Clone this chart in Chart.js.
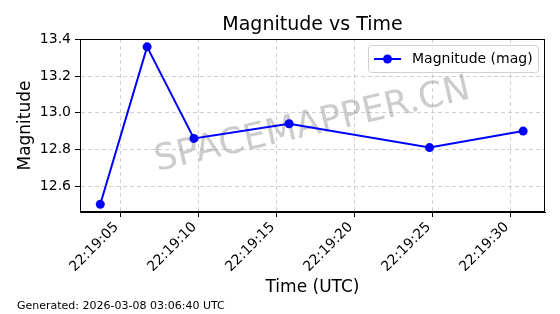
<!DOCTYPE html>
<html>
<head>
<meta charset="utf-8">
<script src="https://cdn.jsdelivr.net/npm/chart.js@4.4.1/dist/chart.umd.min.js"></script>
<style>
  body { margin: 0; background: #fff; }
  canvas { display: block; }
</style>
</head>
<body>
<canvas id="magChart" width="560" height="314"></canvas>
<script>
const times = ['22:19:03.7', '22:19:06.7', '22:19:09.7', '22:19:15.8', '22:19:24.8', '22:19:30.8'];
const magnitudes = [12.50, 13.36, 12.86, 12.94, 12.81, 12.90];
const xRange = ['22:19:02.4', '22:19:32.2'];
const yRange = [12.458, 13.403];
const seriesLabel = 'Magnitude (mag)';
const titleText = 'Magnitude vs Time';
const footerText = 'Generated: 2026-03-08 03:06:40 UTC';
const watermark = 'SPACEMAPPER.CN';

const FONT = '"DejaVu Sans", sans-serif';

// "hh:mm:ss.s" -> seconds of day
function toSec(t) {
    const p = t.split(':').map(Number);
    return p[0] * 3600 + p[1] * 60 + p[2];
}
function fmtTime(v) {
    const s = Math.round(v);
    const pad = n => String(n).padStart(2, '0');
    return pad(Math.floor(s / 3600)) + ':' + pad(Math.floor(s / 60) % 60) + ':' + pad(s % 60);
}

const points = times.map((t, i) => ({ x: toSec(t), y: magnitudes[i] }));

// Frame, title, legend, watermark and footer (matplotlib style)
const extras = {
    id: 'extras',
    beforeDatasetsDraw(chart) {
        // watermark sits under the data line
        const { ctx, chartArea: a } = chart;
        ctx.save();
        ctx.translate((a.left + a.right) / 2, (a.top + a.bottom) / 2);
        ctx.rotate(-13 * Math.PI / 180);
        ctx.font = '36px ' + FONT;
        ctx.fillStyle = 'rgba(128,128,128,0.4)';
        ctx.textAlign = 'center';
        ctx.textBaseline = 'middle';
        ctx.fillText(watermark, 0, 0);
        ctx.restore();
    },
    afterDatasetsDraw(chart) {
        const { ctx, chartArea: a } = chart;
        ctx.save();
        // axes frame
        ctx.strokeStyle = '#000';
        ctx.lineWidth = 1;
        ctx.strokeRect(a.left + 0.5, a.top + 0.5, a.right - a.left - 1, a.bottom - a.top - 1);

        // legend box
        const lx = 368, ly = 45, lw = 170, lh = 27;
        ctx.fillStyle = 'rgba(255,255,255,0.8)';
        ctx.strokeStyle = '#d0d0d0';
        ctx.beginPath();
        ctx.roundRect(lx + 0.5, ly + 0.5, lw, lh, 3);
        ctx.fill();
        ctx.stroke();
        ctx.strokeStyle = '#0000ff';
        ctx.lineWidth = 2;
        ctx.beginPath();
        ctx.moveTo(lx + 6, ly + 14);
        ctx.lineTo(lx + 33, ly + 14);
        ctx.stroke();
        ctx.fillStyle = '#0000ff';
        ctx.beginPath();
        ctx.arc(lx + 19.5, ly + 14, 4.5, 0, Math.PI * 2);
        ctx.fill();
        ctx.fillStyle = '#000';
        ctx.font = '14px ' + FONT;
        ctx.textAlign = 'left';
        ctx.textBaseline = 'middle';
        ctx.fillText(seriesLabel, lx + 44, ly + 14);

        // title
        ctx.font = '19px ' + FONT;
        ctx.textAlign = 'center';
        ctx.textBaseline = 'alphabetic';
        ctx.fillText(titleText, (a.left + a.right) / 2, 30);

        // footer
        ctx.font = '11px ' + FONT;
        ctx.textAlign = 'left';
        ctx.fillText(footerText, 17, 309);
        ctx.restore();
    }
};

const gridColor = 'rgba(176,176,176,0.6)';

new Chart(document.getElementById('magChart').getContext('2d'), {
    type: 'line',
    data: {
        datasets: [{
            label: seriesLabel,
            data: points,
            borderColor: '#0000ff',
            backgroundColor: '#0000ff',
            borderWidth: 2,
            pointRadius: 4.5,
            pointHoverRadius: 4.5,
            pointBorderWidth: 0,
            tension: 0,
            fill: false
        }]
    },
    options: {
        responsive: false,
        animation: false,
        devicePixelRatio: 1,
        layout: { padding: { left: 0, right: 15, top: 39, bottom: 12 } },
        plugins: {
            legend: { display: false },
            title: { display: false },
            tooltip: { enabled: false }
        },
        scales: {
            x: {
                type: 'linear',
                min: toSec(xRange[0]),
                max: toSec(xRange[1]),
                afterFit(scale) { scale.height = 90; },
                grid: {
                    color: gridColor,
                    tickColor: '#000',
                    tickLength: 5,
                    tickBorderDash: []
                },
                border: { display: true, color: '#000', dash: [4, 3] },
                ticks: {
                    stepSize: 5,
                    includeBounds: false,
                    maxRotation: 45,
                    minRotation: 45,
                    padding: 2,
                    labelOffset: -4,
                    color: '#000',
                    font: { family: FONT, size: 14 },
                    callback: v => fmtTime(v)
                },
                title: {
                    display: true,
                    text: 'Time (UTC)',
                    color: '#000',
                    font: { family: FONT, size: 17 },
                    padding: { top: 4, bottom: 4 }
                }
            },
            y: {
                min: yRange[0],
                max: yRange[1],
                afterFit(scale) { scale.width = 80; },
                grid: {
                    color: gridColor,
                    tickColor: '#000',
                    tickLength: 5,
                    tickBorderDash: []
                },
                border: { display: true, color: '#000', dash: [4, 3] },
                ticks: {
                    stepSize: 0.2,
                    includeBounds: false,
                    padding: 4,
                    color: '#000',
                    font: { family: FONT, size: 14 },
                    callback: v => v.toFixed(1)
                },
                title: {
                    display: true,
                    text: 'Magnitude',
                    color: '#000',
                    font: { family: FONT, size: 17 },
                    padding: { top: 15, bottom: 4 }
                }
            }
        }
    },
    plugins: [extras]
});
</script>
</body>
</html>
